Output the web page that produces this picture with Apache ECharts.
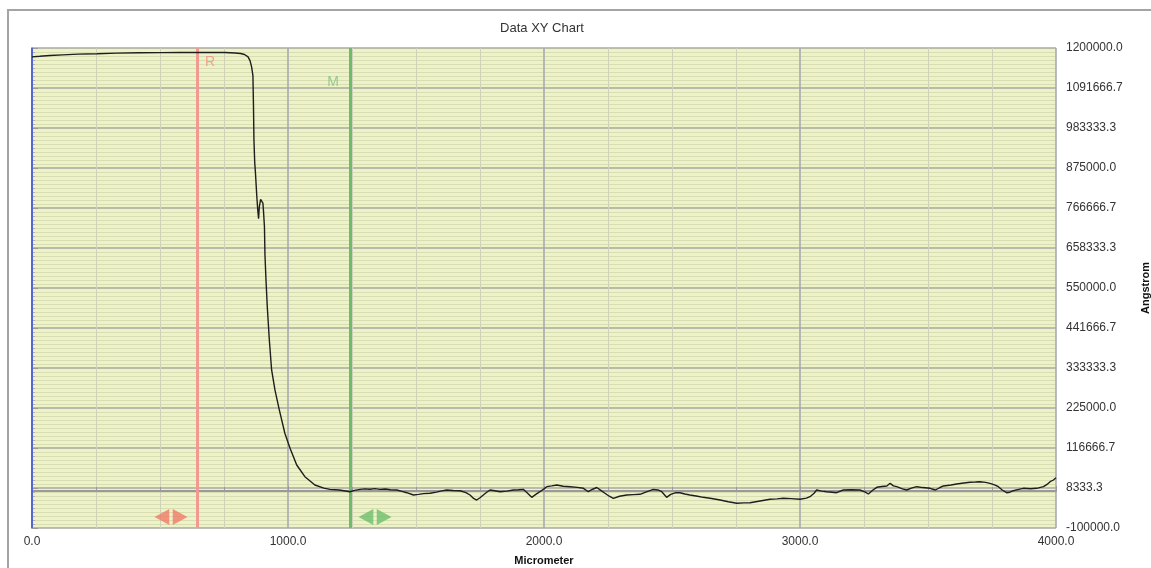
<!DOCTYPE html>
<html>
<head>
<meta charset="utf-8">
<script src="https://cdn.jsdelivr.net/npm/echarts@6/dist/echarts.min.js"></script>
<style>
html,body{margin:0;padding:0;background:#fff;overflow:hidden;}
#chart{width:1151px;height:568px;}
</style>
</head>
<body>
<div id="chart"></div>
<script>
// ---- data ----
const chartTitle = 'Data XY Chart';
const xAxisName = 'Micrometer';
const yAxisName = 'Angstrom';
const xMin = 0, xMax = 4000, xStep = 1000;
const yMin = -100000, yMax = 1200000, yDivisions = 12;

const profileX = [
  0, 30, 70, 120, 180, 254, 330, 420, 504, 580, 645, 700, 754, 793, 815, 830, 844, 852, 858, 863,
  865, 867, 870, 873, 878, 882, 885, 888, 893, 898, 902, 905, 908, 910, 914, 919, 927, 936, 949, 966,
  988, 1008, 1034, 1066, 1105, 1140, 1164, 1200, 1242, 1260, 1281, 1300, 1320, 1340, 1359, 1380, 1400, 1425, 1445, 1464,
  1490, 1510, 1530, 1555, 1580, 1600, 1620, 1645, 1672, 1695, 1711, 1725, 1737, 1750, 1763, 1775, 1789, 1808, 1828, 1855,
  1880, 1900, 1919, 1935, 1952, 1968, 1984, 2000, 2011, 2030, 2050, 2075, 2102, 2130, 2154, 2173, 2190, 2206, 2222, 2238,
  2255, 2271, 2295, 2323, 2350, 2375, 2400, 2427, 2445, 2460, 2479, 2495, 2515, 2531, 2550, 2570, 2600, 2622, 2655, 2688,
  2720, 2753, 2780, 2805, 2844, 2883, 2910, 2935, 2965, 3000, 3025, 3039, 3055, 3065, 3085, 3104, 3125, 3143, 3169, 3200,
  3234, 3255, 3267, 3285, 3300, 3320, 3339, 3352, 3365, 3378, 3400, 3417, 3435, 3456, 3480, 3508, 3529, 3545, 3560, 3590,
  3612, 3640, 3664, 3685, 3703, 3725, 3742, 3760, 3775, 3790, 3807, 3820, 3833, 3850, 3872, 3900, 3925, 3951, 3965, 3977,
  3990, 4000
];
const profileY = [
  1176000, 1177500, 1179700, 1181500, 1183500, 1184500, 1186000, 1187000, 1187500, 1188000, 1188000, 1188200, 1187800, 1186500, 1185000, 1182500, 1176000, 1165000, 1148000, 1125000,
  1050000, 950000, 890000, 860000, 800000, 760000, 738000, 770000, 790000, 792000, 780000, 750000, 716000, 640000, 572000, 500000, 410000, 328000, 274000, 220000,
  156000, 116000, 70600, 39000, 16500, 8000, 4700, 3000, -1700, 2000, 4700, 6000, 5000, 6500, 4700, 5500, 3500, 2900, -1000, -4400,
  -10600, -9000, -7000, -6000, -3000, 500, 2900, 1500, 1000, -4000, -10600, -20000, -24200, -18000, -10600, -4000, 2900, 1000, -1700, 0,
  2900, 3500, 4700, -5000, -16900, -9000, -1700, 6000, 11900, 14000, 16500, 13000, 11900, 10000, 7500, -1700, 5000, 9700, 2000, -6000,
  -14000, -19600, -14000, -10600, -9500, -8700, -2000, 4700, 3000, -1700, -16900, -9000, -4400, -4400, -8000, -10600, -14000, -16900, -20000, -24200,
  -29000, -33100, -32000, -31500, -26900, -22300, -21000, -19600, -20500, -22300, -19000, -15200, -6000, 2900, 0, -1700, -3000, -4400, 2900, 3500,
  2900, -3000, -7900, 3000, 10200, 12500, 13800, 21000, 14000, 11900, 6000, 2900, 8000, 11900, 9500, 7500, 2900, 9000, 13800, 16500,
  19200, 22000, 23800, 24500, 25400, 23500, 21000, 17000, 11900, 3000, -4400, -3000, 1000, 4000, 7500, 6500, 7500, 11900, 18000, 25400,
  30000, 36000
];

// cursor positions (Micrometer)
const cursorR = 645;
const cursorM = 1242;
const cursorRArrow = [543, -70200];
const cursorMArrow = [1340, -70200];
const cursorLabelR = [cursorR, 1162000];
const cursorLabelM = [cursorM, 1108000];

// ---- chart ----
const chart = echarts.init(document.getElementById('chart'), null, {renderer: 'canvas'});
const FONT = "'Liberation Sans', Arial, sans-serif";
const doubleArrow = 'path://M0,8L13,0L13,16Z M16,0L29,8L16,16Z';

const option = {
  animation: false,
  backgroundColor: '#ffffff',
  graphic: [
    {type: 'rect', shape: {x: 8, y: 10, width: 1200, height: 620}, style: {fill: 'none', stroke: '#a4a4a4', lineWidth: 2}, silent: true, z: -10},
    {type: 'text', x: 542, y: 28, style: {text: chartTitle, font: '13px ' + FONT, fill: '#333', textAlign: 'center', textVerticalAlign: 'middle'}}
  ],
  grid: {left: 32, right: 95, top: 48, bottom: 40, show: true, backgroundColor: '#eef2c8', borderWidth: 0,
         containLabel: false, outerBoundsMode: 'none'},
  xAxis: {
    type: 'value', min: xMin, max: xMax, interval: xStep,
    name: xAxisName, nameLocation: 'middle', nameGap: 27,
    nameTextStyle: {fontFamily: FONT, fontSize: 11, fontWeight: 'bold', color: '#111'},
    axisLine: {show: true, lineStyle: {color: '#9a9a9a', width: 2}},
    axisTick: {show: true, inside: true, length: 5, lineStyle: {color: '#9a9a9a'}},
    minorTick: {show: true, splitNumber: 4, length: 4, lineStyle: {color: '#9a9a9a'}},
    axisLabel: {fontFamily: FONT, fontSize: 12, color: '#333', margin: 8, formatter: v => v.toFixed(1)},
    splitLine: {show: true, lineStyle: {color: '#a2a4b2', width: 1.5}},
    minorSplitLine: {show: true, lineStyle: {color: '#cfd2b8', width: 1}}
  },
  yAxis: {
    type: 'value', position: 'right', min: yMin, max: yMax, interval: (yMax - yMin) / yDivisions,
    name: yAxisName, nameLocation: 'middle', nameGap: 84, nameRotate: 90,
    nameTextStyle: {fontFamily: FONT, fontSize: 11, fontWeight: 'bold', color: '#111'},
    axisLine: {show: true, lineStyle: {color: '#9a9a9a', width: 2}},
    axisTick: {show: true, length: 6, lineStyle: {color: '#9a9a9a'}},
    minorTick: {show: true, splitNumber: 10, length: 3, lineStyle: {color: '#b0b0b0'}},
    axisLabel: {fontFamily: FONT, fontSize: 12, color: '#333', margin: 10, formatter: v => v.toFixed(1)},
    splitLine: {show: true, lineStyle: {color: '#a8aaa0', width: 1.5}},
    minorSplitLine: {show: true, lineStyle: {color: '#d9ddb2', width: 1}}
  },
  series: [
    {
      name: 'profile', type: 'line', showSymbol: false, symbol: 'none', smooth: false,
      data: profileX.map((x, i) => [x, profileY[i]]),
      lineStyle: {color: '#1e1e1e', width: 1.4},
      z: 5,
      markLine: {
        silent: true, symbol: 'none', animation: false,
        label: {show: false},
        data: [
          {xAxis: xMin, lineStyle: {color: '#5566cc', width: 2, type: 'solid'}},
          {xAxis: cursorR, lineStyle: {color: '#f29a92', width: 3, type: 'solid'}},
          {xAxis: cursorM, lineStyle: {color: '#6dbb6d', width: 3, type: 'solid'}}
        ]
      }
    },
    {
      name: 'cursorLabels', type: 'scatter', symbolSize: 0, z: 6,
      data: [
        {value: cursorLabelR, label: {show: true, formatter: 'R', position: 'right', distance: 8, color: '#f2907f', fontSize: 14, fontFamily: FONT}},
        {value: cursorLabelM, label: {show: true, formatter: 'M', position: 'left', distance: 11, color: '#7fbf7f', fontSize: 14, fontFamily: FONT}}
      ]
    },
    {
      name: 'cursorArrows', type: 'scatter', symbol: doubleArrow, symbolSize: [33, 16], z: 6,
      data: [
        {value: cursorRArrow, itemStyle: {color: '#f07a68'}},
        {value: cursorMArrow, itemStyle: {color: '#6cbf6c'}}
      ]
    }
  ]
};
chart.setOption(option);
</script>
</body>
</html>
